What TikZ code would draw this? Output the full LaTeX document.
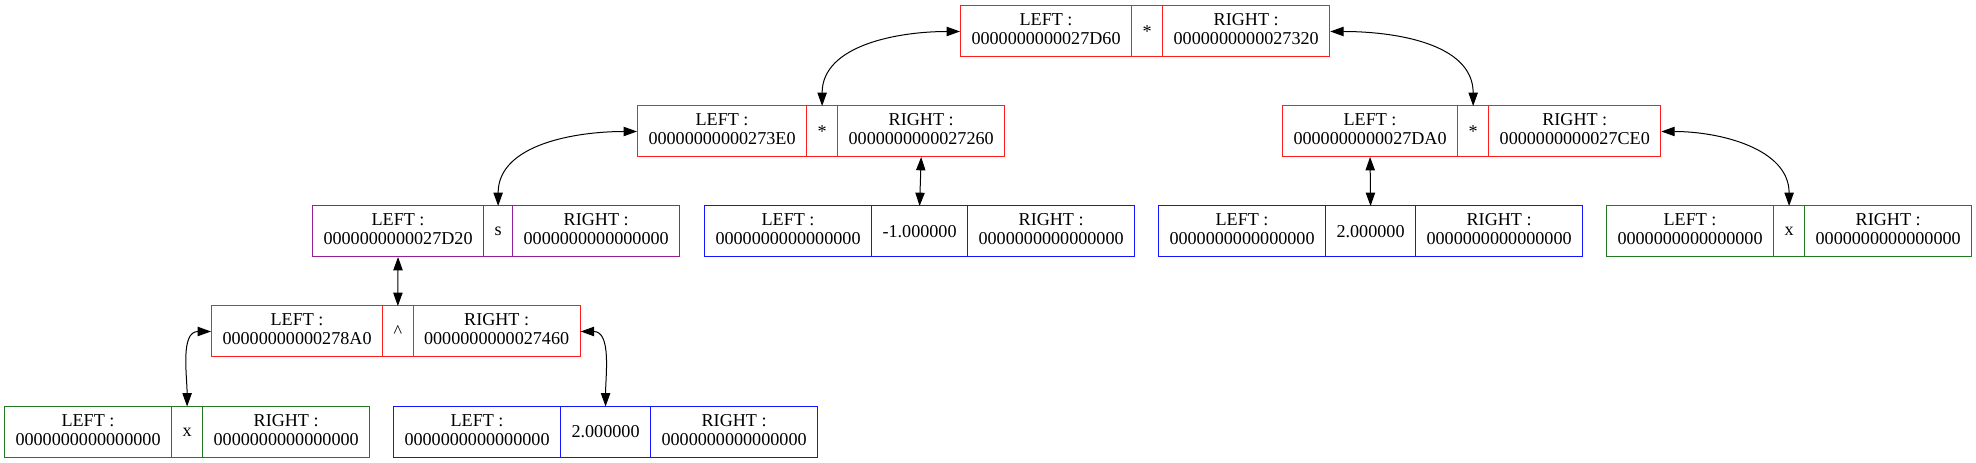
\documentclass[tikz,border=0pt]{standalone}
\usepackage{fontspec}
\setmainfont{Liberation Serif}
\usetikzlibrary{matrix,arrows.meta,positioning}

\definecolor{recred}{RGB}{255,30,30}
\definecolor{recpurple}{RGB}{150,30,150}
\definecolor{recgreen}{RGB}{35,120,35}
\definecolor{recblue}{RGB}{20,20,255}

% two-line address cell
\newcommand\recaddr[2]{\begin{tabular}{@{}c@{}}#1\\#2\end{tabular}}

\begin{document}
\begin{tikzpicture}[x=0.75pt,y=0.75pt,
    rec/.style={matrix of nodes, anchor=west, inner sep=0pt, outer sep=0pt,
        line width=0.75pt, column sep=-\pgflinewidth,
        nodes={draw=#1, line width=0.75pt, minimum height=38.25pt,
            inner xsep=8.25pt, inner ysep=0pt, anchor=center,
            font=\fontsize{13.6}{14.25}\selectfont}},
    link/.style={{Triangle[length=10pt,width=7pt]}-{Triangle[length=10pt,width=7pt]},
        line width=0.75pt, black},
    ]
\useasboundingbox (0,0) rectangle (1976,463);

% top level
\matrix (top) [rec=recred] at (960,431.5) {
    \recaddr{LEFT :}{0000000000027D60} & * & \recaddr{RIGHT :}{0000000000027320}\\};

% second level
\matrix (mulL) [rec=recred] at (637,331.5) {
    \recaddr{LEFT :}{00000000000273E0} & * & \recaddr{RIGHT :}{0000000000027260}\\};
\matrix (mulR) [rec=recred] at (1282,331.5) {
    \recaddr{LEFT :}{0000000000027DA0} & * & \recaddr{RIGHT :}{0000000000027CE0}\\};

% third level
\matrix (sinn) [rec=recpurple] at (312,231.5) {
    \recaddr{LEFT :}{0000000000027D20} & s & \recaddr{RIGHT :}{0000000000000000}\\};
\matrix (neg1) [rec=recblue] at (704,231.5) {
    \recaddr{LEFT :}{0000000000000000} & -1.000000 & \recaddr{RIGHT :}{0000000000000000}\\};
\matrix (num2b) [rec=recblue] at (1158,231.5) {
    \recaddr{LEFT :}{0000000000000000} & 2.000000 & \recaddr{RIGHT :}{0000000000000000}\\};
\matrix (xb) [rec=recgreen] at (1606,231.5) {
    \recaddr{LEFT :}{0000000000000000} & x & \recaddr{RIGHT :}{0000000000000000}\\};

% fourth level
\matrix (pow) [rec=recred] at (211,131.5) {
    \recaddr{LEFT :}{00000000000278A0} & \textasciicircum & \recaddr{RIGHT :}{0000000000027460}\\};

% leaves
\matrix (xa) [rec=recgreen] at (4,31) {
    \recaddr{LEFT :}{0000000000000000} & x & \recaddr{RIGHT :}{0000000000000000}\\};
\matrix (num2a) [rec=recblue] at (393,31) {
    \recaddr{LEFT :}{0000000000000000} & 2.000000 & \recaddr{RIGHT :}{0000000000000000}\\};

% links
\draw [link] (top.west) to[out=180,in=90] (mulL-1-2.north);
\draw [link] (top.east) to[out=0,in=90] (mulR-1-2.north);
\draw [link] (mulL.west) to[out=180,in=90] (sinn-1-2.north);
\draw [link] (mulL-1-3.south) -- (neg1-1-2.north);
\draw [link] (mulR-1-1.south) -- (num2b-1-2.north);
\draw [link] (mulR.east) to[out=0,in=90] (xb-1-2.north);
\draw [link] (sinn-1-1.south) -- (pow-1-2.north);
\draw [link] (pow.west) to[out=180,in=90] (xa-1-2.north);
\draw [link] (pow.east) to[out=0,in=90] (num2a-1-2.north);

\end{tikzpicture}
\end{document}
